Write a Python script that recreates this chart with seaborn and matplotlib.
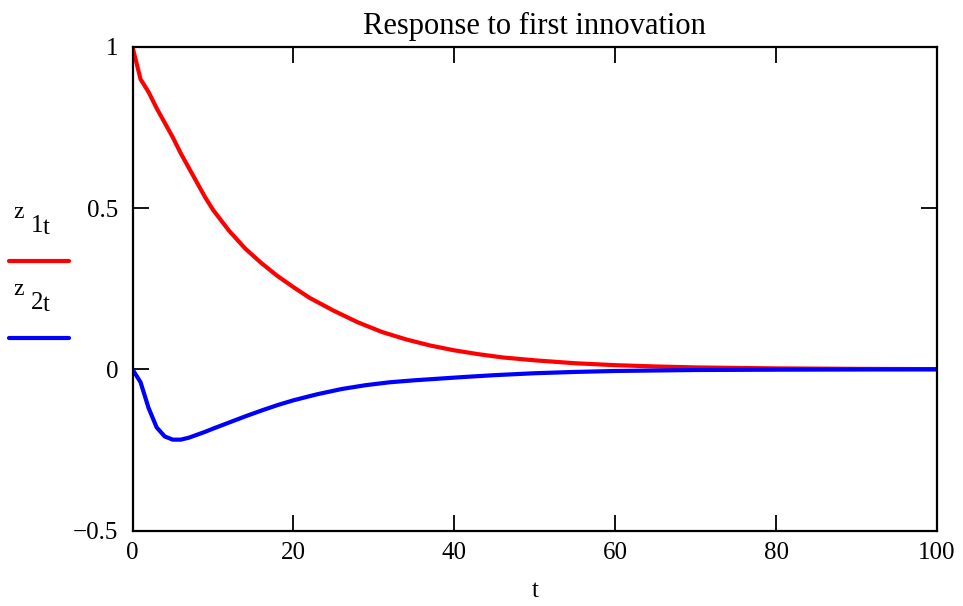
import matplotlib
matplotlib.use("Agg")
import matplotlib.pyplot as plt
from matplotlib.lines import Line2D
import pandas as pd
import seaborn as sns

# Impulse response of the two state components to the first innovation
t_z1 = [0, 1, 2, 3, 4, 5, 6, 7, 8, 9, 10, 12, 14, 16, 18, 20, 22, 25, 28, 31,
        34, 37, 40, 43, 46, 50, 55, 60, 65, 70, 80, 90, 100]
z1 = [1.0, 0.90, 0.86, 0.81, 0.765, 0.72, 0.67, 0.625, 0.58, 0.535, 0.495,
      0.43, 0.375, 0.33, 0.29, 0.255, 0.222, 0.182, 0.146, 0.116, 0.093,
      0.074, 0.059, 0.047, 0.037, 0.028, 0.019, 0.013, 0.009, 0.006, 0.003,
      0.0015, 0.0007]

t_z2 = [0, 1, 2, 3, 4, 5, 6, 7, 8, 9, 10, 12, 14, 16, 18, 20, 23, 26, 29, 32,
        35, 38, 41, 45, 50, 55, 60, 70, 80, 90, 100]
z2 = [0.0, -0.04, -0.12, -0.18, -0.208, -0.218, -0.218, -0.212, -0.203,
      -0.194, -0.184, -0.165, -0.146, -0.128, -0.111, -0.096, -0.077, -0.061,
      -0.049, -0.04, -0.034, -0.029, -0.024, -0.018, -0.012, -0.008, -0.005,
      -0.002, -0.001, -0.0005, 0.0]

x_ticks = [0, 20, 40, 60, 80, 100]
y_ticks = [-0.5, 0, 0.5, 1]
y_tick_labels = ["\u22120.5", "0", "0.5", "1"]

sns.set_style("white")
plt.rcParams["font.family"] = ["Liberation Serif", "DejaVu Serif"]
plt.rcParams.update({
    "text.color": "black",
    "axes.labelcolor": "black",
    "xtick.color": "black",
    "ytick.color": "black",
    "axes.edgecolor": "black",
})

df = pd.concat([
    pd.DataFrame({"t": t_z1, "value": z1, "series": "z1"}),
    pd.DataFrame({"t": t_z2, "value": z2, "series": "z2"}),
])

fig = plt.figure(figsize=(9.63, 6.06), dpi=100)
ax = fig.add_axes([0.1376, 0.1245, 0.8354, 0.7980])

sns.lineplot(data=df, x="t", y="value", hue="series",
             palette={"z1": "#ff0000", "z2": "#0000ff"},
             linewidth=3, legend=False, ax=ax, estimator=None, sort=False)

ax.set_xlim(0, 100)
ax.set_ylim(-0.5, 1)
ax.set_xticks(x_ticks)
ax.set_xticklabels([str(v) for v in x_ticks])
ax.set_yticks(y_ticks)
ax.set_yticklabels(y_tick_labels)
ax.tick_params(direction="in", length=11.5, width=1.3, colors="black",
               labelsize=18, top=True, right=True, bottom=True, left=True,
               labeltop=False, labelright=False,
               labelbottom=True, labelleft=True)
ax.tick_params(axis="x", pad=8)
ax.tick_params(axis="y", pad=10)
for sp in ax.spines.values():
    sp.set_color("black")
    sp.set_linewidth(1.6)

ax.set_xlabel("t", fontsize=18, labelpad=12)
ax.set_ylabel("")
ax.set_title("Response to first innovation", fontsize=22, pad=9, color="black")

# Series key on the left edge
def key_label(y, idx):
    fig.text(13 / 963, 1 - y / 606, "z", fontsize=17, va="baseline")
    fig.text(31 / 963, 1 - (y + 14) / 606, idx, fontsize=18, va="baseline")
    fig.text(43 / 963, 1 - (y + 16) / 606, "t", fontsize=18, va="baseline")

key_label(218, "1")
key_label(295, "2")
fig.add_artist(Line2D([9 / 963, 69 / 963], [1 - 260.5 / 606, 1 - 260.5 / 606],
                      color="#ff0000", linewidth=3, solid_capstyle="round"))
fig.add_artist(Line2D([9 / 963, 69 / 963], [1 - 337.5 / 606, 1 - 337.5 / 606],
                      color="#0000ff", linewidth=3, solid_capstyle="round"))

fig.savefig("out.png", dpi=100)
